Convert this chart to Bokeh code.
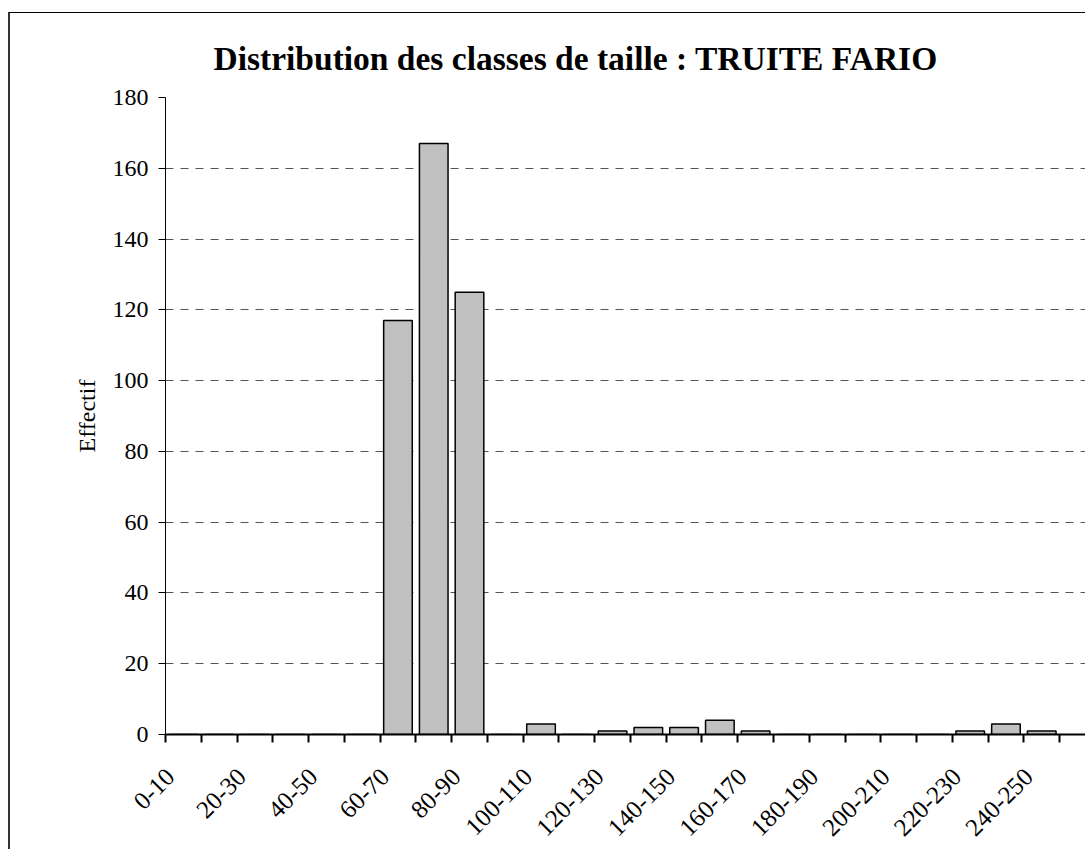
import math
from bokeh.plotting import figure
from bokeh.models import Range1d, FixedTicker, ColumnDataSource, Title
from bokeh.embed import file_html
from bokeh.resources import INLINE

# ---- data ----
categories = ["0-10", "10-20", "20-30", "30-40", "40-50", "50-60", "60-70", "70-80",
              "80-90", "90-100", "100-110", "110-120", "120-130", "130-140", "140-150",
              "150-160", "160-170", "170-180", "180-190", "190-200", "200-210",
              "210-220", "220-230", "230-240", "240-250"]
counts = [0, 0, 0, 0, 0, 0, 117, 167, 125, 0, 3, 0, 1, 2, 2, 4, 1, 0, 0, 0, 0, 0, 1, 3, 1]
y_ticks = [0, 20, 40, 60, 80, 100, 120, 140, 160, 180]
title_text = "Distribution des classes de taille : TRUITE FARIO"
y_label = "Effectif"

FONT = "Liberation Serif"

xs = [i + 0.5 for i in range(len(categories))]
src = ColumnDataSource(dict(x=xs, top=counts, cat=categories))

p = figure(width=1077, height=837, output_backend="svg", toolbar_location=None,
           x_range=Range1d(0, 25.78), y_range=Range1d(0, 180),
           min_border_left=155, min_border_top=84, min_border_bottom=116,
           min_border_right=0)
p.outline_line_color = None
p.background_fill_color = "white"
p.border_fill_color = "white"
p.styles = {"margin-left": "8px", "margin-top": "12px",
            "border-left": "2px solid #333333", "border-top": "1px solid black"}

p.vbar(x="x", top="top", width=0.8, source=src, fill_color="#C0C0C0",
       line_color="black", line_width=1.5)

# title
p.title = Title(text=title_text, text_font=FONT, text_font_size="33.5px",
                text_font_style="bold", text_color="black", align="left", offset=48,
                standoff=42)

# y axis
p.yaxis.ticker = FixedTicker(ticks=y_ticks)
p.yaxis.major_label_text_font = FONT
p.yaxis.major_label_text_font_size = "24px"
p.yaxis.major_label_text_color = "black"
p.yaxis.major_label_standoff = 10
p.yaxis.major_tick_out = 7
p.yaxis.major_tick_in = 0
p.yaxis.minor_tick_out = 0
p.yaxis.axis_line_color = "black"
p.yaxis.axis_line_width = 1
p.yaxis.major_tick_line_color = "black"

# y axis title (vertical), placed left of the axis
p.add_layout(Title(text=y_label, text_font=FONT, text_font_size="24px",
                   text_font_style="normal", text_color="black", align="center",
                   standoff=20), "left")

# x axis: labels at every other category, tick marks at category boundaries
label_idx = list(range(0, len(categories), 2))
label_pos = [xs[i] - 0.37 for i in label_idx]
bounds = list(range(0, len(categories) + 2))
p.xaxis.ticker = FixedTicker(ticks=label_pos, minor_ticks=bounds)
p.xaxis.major_label_overrides = {lp: categories[i] for lp, i in zip(label_pos, label_idx)}
p.xaxis.major_label_orientation = math.pi / 4
p.xaxis.major_label_text_font = FONT
p.xaxis.major_label_text_font_size = "25px"
p.xaxis.major_label_text_color = "black"
p.xaxis.major_label_standoff = 30
p.xaxis.major_tick_out = 0
p.xaxis.major_tick_in = 0
p.xaxis.minor_tick_out = 8
p.xaxis.minor_tick_in = 0
p.xaxis.minor_tick_line_width = 2
p.xaxis.minor_tick_line_color = "black"
p.xaxis.axis_line_width = 2
p.xaxis.axis_line_color = "black"

p.xgrid.visible = False
p.ygrid.grid_line_color = "#555555"
p.ygrid.grid_line_dash = "8 7"
p.ygrid.grid_line_width = 1

open("out.html", "w").write(file_html(p, INLINE))
